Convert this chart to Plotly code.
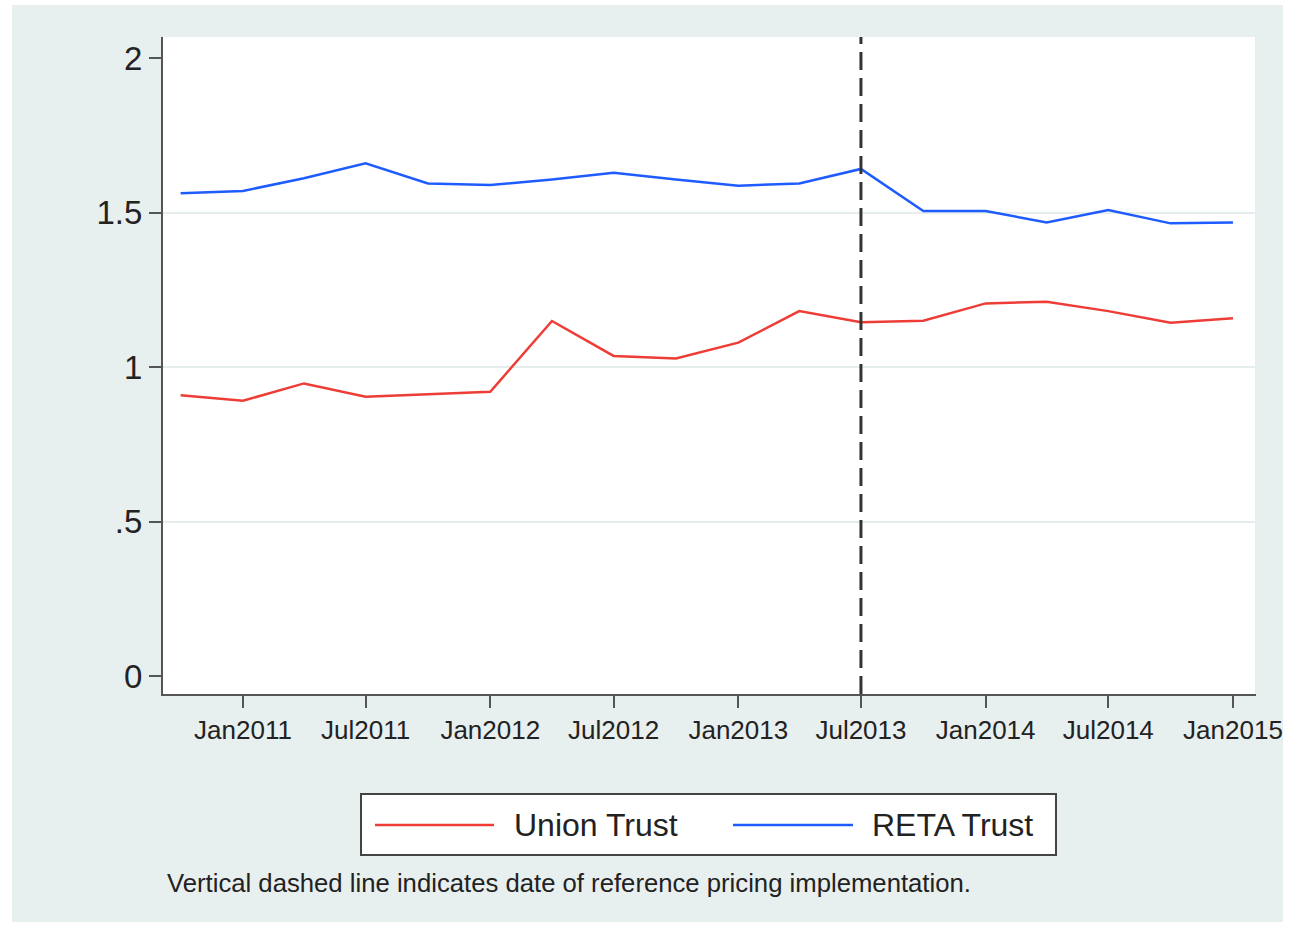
import plotly.graph_objects as go

# ---------------- data ----------------
quarters = [
    "2010-10-01", "2011-01-01", "2011-04-01", "2011-07-01", "2011-10-01",
    "2012-01-01", "2012-04-01", "2012-07-01", "2012-10-01", "2013-01-01",
    "2013-04-01", "2013-07-01", "2013-10-01", "2014-01-01", "2014-04-01",
    "2014-07-01", "2014-10-01", "2015-01-01",
]
union_trust = [
    0.909, 0.891, 0.947, 0.904, 0.912, 0.920, 1.149, 1.036, 1.028,
    1.079, 1.181, 1.145, 1.150, 1.206, 1.211, 1.181, 1.143, 1.158,
]
reta_trust = [
    1.562, 1.570, 1.611, 1.659, 1.594, 1.589, 1.607, 1.629, 1.607,
    1.587, 1.594, 1.641, 1.505, 1.505, 1.468, 1.508, 1.465, 1.468,
]
series_names = ["Union Trust", "RETA Trust"]
policy_date = "2013-07-01"
y_tickvals = [0, 0.5, 1, 1.5, 2]
y_ticktext = ["0", ".5", "1", "1.5", "2"]
y_gridvals = [0.5, 1, 1.5]
note_text = "Vertical dashed line indicates date of reference pricing implementation."

# ---------------- styling / geometry ----------------
W, H = 1295, 925
PL, PR, PT, PB = 163, 1256, 37, 694   # plot area in pixels
RED = "#EE3D36"
BLUE = "#1F5CFF"
BG = "#E8EFEF"
GRID = "#E6EDED"
AXC = "#555555"
TXT = "#222222"
FONT = "Liberation Sans, Arial, Helvetica, sans-serif"


def xp(px):
    return (px - PL) / (PR - PL)


def yp(py):
    return (PB - py) / (PB - PT)


fig = go.Figure()
fig.add_trace(go.Scatter(x=quarters, y=union_trust, mode="lines", name=series_names[0],
                         line=dict(color=RED, width=2.5), showlegend=False))
fig.add_trace(go.Scatter(x=quarters, y=reta_trust, mode="lines", name=series_names[1],
                         line=dict(color=BLUE, width=2.5), showlegend=False))

shapes = [
    # light outer graph region
    dict(type="rect", xref="paper", yref="paper", layer="below",
         x0=xp(12), x1=xp(1283), y0=yp(922), y1=yp(5),
         fillcolor=BG, line=dict(width=0)),
    # white plot region
    dict(type="rect", xref="paper", yref="paper", layer="below",
         x0=0, x1=1, y0=0, y1=1, fillcolor="white", line=dict(width=0)),
    # faint right border of the plot region
    dict(type="line", xref="paper", yref="paper", layer="below",
         x0=1, x1=1, y0=0, y1=1, line=dict(color=GRID, width=2)),
    # vertical dashed policy line
    dict(type="line", xref="x", yref="paper", x0=policy_date, x1=policy_date,
         y0=0, y1=1, line=dict(color="#333333", width=3, dash="18px,8px")),
    # legend box
    dict(type="rect", xref="paper", yref="paper",
         x0=xp(361), x1=xp(1056), y0=yp(855), y1=yp(794),
         fillcolor="white", line=dict(color="#444444", width=2)),
    dict(type="line", xref="paper", yref="paper",
         x0=xp(375), x1=xp(494), y0=yp(825), y1=yp(825),
         line=dict(color=RED, width=2.5)),
    dict(type="line", xref="paper", yref="paper",
         x0=xp(733), x1=xp(853), y0=yp(825), y1=yp(825),
         line=dict(color=BLUE, width=2.5)),
]

annotations = [
    dict(xref="paper", yref="paper", x=xp(512), y=yp(825), xanchor="left", yanchor="middle",
         text=series_names[0], showarrow=False, font=dict(size=32, color=TXT, family=FONT)),
    dict(xref="paper", yref="paper", x=xp(870), y=yp(825), xanchor="left", yanchor="middle",
         text=series_names[1], showarrow=False, font=dict(size=32, color=TXT, family=FONT)),
    dict(xref="paper", yref="paper", x=xp(165), y=yp(883), xanchor="left", yanchor="middle",
         text=note_text, showarrow=False, font=dict(size=25.7, color=TXT, family=FONT)),
]

fig.update_layout(
    width=W, height=H,
    margin=dict(l=PL, r=W - PR, t=PT, b=H - PB, pad=0),
    paper_bgcolor="white",
    plot_bgcolor="white",
    font=dict(family=FONT, color=TXT),
    shapes=shapes,
    annotations=annotations,
    showlegend=False,
)

fig.update_xaxes(
    type="date",
    range=["2010-09-05", "2015-02-04"],
    tick0="2011-01-01", dtick="M6", tickformat="%b%Y",
    ticks="outside", ticklen=12, tickwidth=2, tickcolor=AXC,
    showline=True, linecolor=AXC, linewidth=2,
    showgrid=False, zeroline=False,
    tickfont=dict(size=26, color=TXT, family=FONT),
)
fig.update_yaxes(
    range=[-0.058, 2.068],
    tickmode="array", tickvals=y_tickvals, ticktext=y_ticktext,
    ticks="outside", ticklen=12, tickwidth=2, tickcolor=AXC,
    showline=True, linecolor=AXC, linewidth=2,
    showgrid=False, zeroline=False,
    minor=dict(tickmode="array", tickvals=y_gridvals, showgrid=True,
               gridcolor=GRID, gridwidth=2, ticks=""),
    tickfont=dict(size=33, color=TXT, family=FONT),
)

fig.write_html("out.html", config={"displayModeBar": False},
               post_script="document.body.style.margin='0';")
